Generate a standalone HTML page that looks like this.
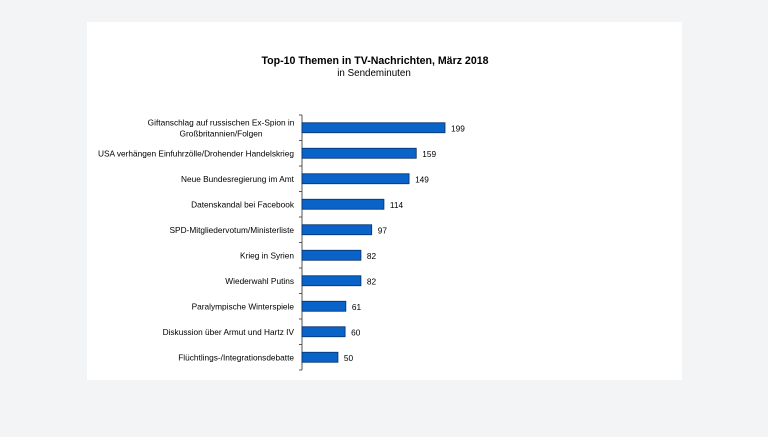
<!DOCTYPE html>
<html><head><meta charset="utf-8"><style>
body{margin:0;width:768px;height:432px;background:#f3f4f6;font-family:"Liberation Sans",sans-serif;overflow:hidden}
</style></head><body>
<svg width="768" height="432">
<rect x="87" y="22" width="595" height="358" fill="#fff"/>
<text x="375" y="64" text-anchor="middle" font-size="10.6" font-weight="bold" fill="#000">Top-10 Themen in TV-Nachrichten, März 2018</text>
<text x="374" y="76" text-anchor="middle" font-size="9.8" fill="#000">in Sendeminuten</text>
<g id="plot"></g>
</svg>
<script>
const categories=[["Giftanschlag auf russischen Ex-Spion in","Großbritannien/Folgen"],["USA verhängen Einfuhrzölle/Drohender Handelskrieg"],["Neue Bundesregierung im Amt"],["Datenskandal bei Facebook"],["SPD-Mitgliedervotum/Ministerliste"],["Krieg in Syrien"],["Wiederwahl Putins"],["Paralympische Winterspiele"],["Diskussion über Armut und Hartz IV"],["Flüchtlings-/Integrationsdebatte"]];
const values=[199,159,149,114,97,82,82,61,60,50];
const NS="http://www.w3.org/2000/svg";
const g=document.getElementById('plot');
const x0=302,top0=115,bottom0=370;
const band=(bottom0-top0)/values.length;
const xs=v=>x0+v*143/199;
const yc=i=>top0+band*(i+0.5);
function mk(t,a){const e=document.createElementNS(NS,t);for(const k in a)e.setAttribute(k,a[k]);g.appendChild(e);return e;}
const ax=mk('line',{x1:x0,y1:top0,x2:x0,y2:bottom0,stroke:'#555','stroke-width':1});


for(let i=0;i<=values.length;i++){const y=top0+band*i;const t=mk('line',{x1:x0-3,y1:y,x2:x0,y2:y,stroke:'#555'});

}
values.forEach((v,i)=>{
const y=yc(i);
const r=mk('rect',{x:x0,y:y-5,width:xs(v)-x0,height:10,fill:'#0a63c9',stroke:'#062f66','stroke-width':0.8});


const vl=mk('text',{x:xs(v)+6,y:y+3.5,'font-size':8.3,fill:'#000'});vl.textContent=v;


const lines=categories[i];
const multi=lines.length>1;
const lb=mk('text',{'font-size':8.3,fill:'#000','text-anchor':multi?'middle':'end'});


lines.forEach((s,j)=>{const ts=document.createElementNS(NS,'tspan');ts.setAttribute('x',multi?221:x0-8);ts.setAttribute('y',y+3+(j-(lines.length-1)/2)*11);ts.textContent=s;lb.appendChild(ts);});
});
</script>
</body></html>
